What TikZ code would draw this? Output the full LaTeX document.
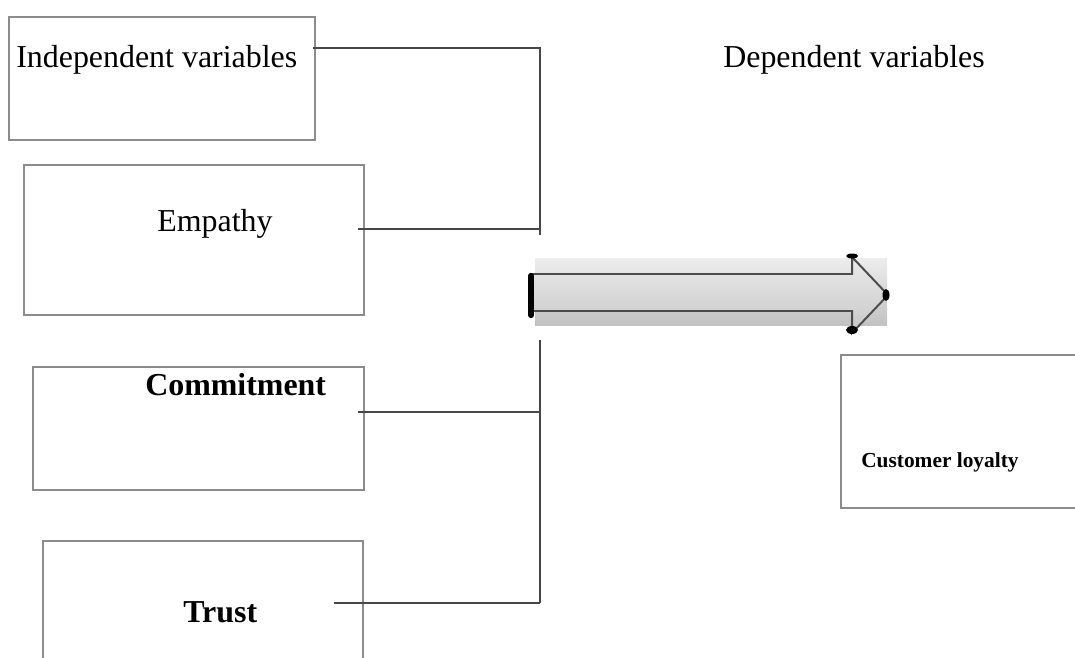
\documentclass[tikz,border=0pt]{standalone}
\usepackage{fontspec}
\setmainfont{Liberation Serif}
\usetikzlibrary{calc}

\tikzset{
  box/.style={draw=black!45, line width=1pt, inner sep=0pt},
  link/.style={draw=black!72, line width=1.5pt},
  big/.style={font=\fontsize{22.7}{27}\selectfont, inner sep=0pt},
  small/.style={font=\fontsize{15.2}{18}\selectfont\bfseries, inner sep=0pt},
}

\begin{document}
\begin{tikzpicture}[x=0.025cm,y=-0.025cm]
    \clip (0,0) rectangle (1075,657);
    \useasboundingbox (0,0) rectangle (1075,657);

    % boxes on the left
    \node [box, minimum width=7.65cm, minimum height=3.075cm] (indep) at (162,78.5) {};
    \node [box, minimum width=8.5cm, minimum height=3.75cm] (empathy) at (194,240) {};
    \node [box, minimum width=8.275cm, minimum height=3.075cm] (commit) at (198.5,428.5) {};
    \node [box, minimum width=8cm, minimum height=3.725cm] (trust) at (203,615.5) {};
    \node [box, minimum width=6.475cm, minimum height=3.825cm] (loyal) at (970.5,431.5) {};

    \node [big, anchor=base west] (indeptxt) at (16,67) {Independent variables};
    \node [big, anchor=base west] (deptxt) at (723,67) {Dependent variables};
    \node [big, anchor=base west] (emptxt) at (157,231) {Empathy};
    \node [big, anchor=base west, font=\fontsize{22.7}{27}\selectfont\bfseries] (comtxt) at (145,395) {Commitment};
    \node [big, anchor=base west, font=\fontsize{22.7}{27}\selectfont\bfseries] (trtxt) at (183,622) {Trust};
    \node [small, anchor=base west] (loytxt) at (861,467) {Customer loyalty};

    % the bus
    \coordinate (bustop) at (540,48);
    \coordinate (busup) at (540,235);
    \coordinate (busdown) at (540,340);
    \coordinate (busbot) at (540,603);
    \draw [link] ($(indep.east |- bustop)+(-3,0)$) -- (bustop) -- (busup);
    \draw [link] (busdown) -- (busbot);
    \draw [link] ($(empathy.east |- 0,229)+(-7,0)$) -- (busup |- 0,229);
    \draw [link] ($(commit.east |- 0,412)+(-7,0)$) -- (busdown |- 0,412);
    \draw [link] ($(trust.east |- busbot)+(-30,0)$) -- (busbot);

    % block arrow
    \shade [top color=black!7, bottom color=black!24] (535,258) rectangle (887,325);
    \coordinate (tail) at (532,292);
    \coordinate (tip) at (888,295);
    \draw [draw=black!70, line width=1.4pt, top color=black!8, bottom color=black!22]
        (tail |- 0,274) -- (852,274) -- (852,257) -- (tip) -- (852,333) -- (852,311) -- (tail |- 0,311);
    \draw [line width=4.5pt, line cap=round] (531,276) -- (531,315);
    \fill (852,256) ellipse (6 and 2.5);
    \fill (852,330) ellipse (6 and 4);
    \fill (886,295) ellipse (3.5 and 6);
\end{tikzpicture}
\end{document}
